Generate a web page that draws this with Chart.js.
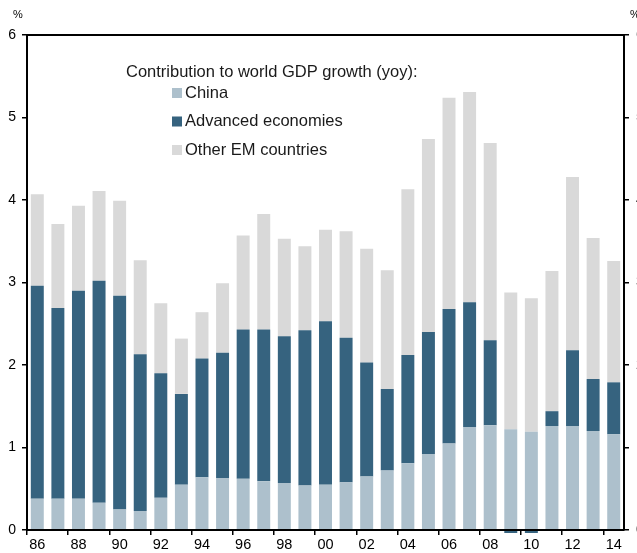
<!DOCTYPE html>
<html>
<head>
<meta charset="utf-8">
<script src="https://cdn.jsdelivr.net/npm/chart.js@4"></script>
<style>
  html, body { margin: 0; padding: 0; background: #fff; overflow: hidden; }
  #wrap { width: 637px; height: 553px; overflow: hidden; position: relative; }
  canvas { display: block; }
</style>
</head>
<body>
<div id="wrap"><canvas id="chart" width="660" height="553"></canvas></div>
<script>
// categories (years, 1986-2014)
const years = ['86','87','88','89','90','91','92','93','94','95','96','97','98','99','00',
               '01','02','03','04','05','06','07','08','09','10','11','12','13','14'];

// contributions to world GDP growth, % points
const china = [0.38,0.38,0.38,0.33,0.25,0.23,0.39,0.55,0.64,0.63,0.62,0.59,0.57,0.54,0.55,
               0.58,0.65,0.72,0.81,0.92,1.05,1.25,1.27,1.22,1.19,1.26,1.26,1.20,1.16];
const advanced = [2.58,2.31,2.52,2.69,2.59,1.90,1.51,1.10,1.44,1.52,1.81,1.84,1.78,1.88,1.98,
                  1.75,1.38,0.99,1.31,1.48,1.63,1.51,1.03,-1.9,-0.1,0.18,0.92,0.63,0.63];
const otherEM = [1.11,1.02,1.03,1.09,1.15,1.14,0.85,0.67,0.56,0.84,1.14,1.40,1.18,1.02,1.11,
                 1.29,1.38,1.44,2.01,2.34,2.56,2.55,2.39,1.66,1.62,1.70,2.10,1.71,1.47];

const yTicks = [0,1,2,3,4,5,6];
const legendTitle = 'Contribution to world GDP growth (yoy):';

const FONT = '"Liberation Sans", Arial, sans-serif';

// top frame line, "%" labels and the legend block
const extras = {
  id: 'extras',
  afterDraw(chart) {
    const ctx = chart.ctx;
    const a = chart.chartArea;
    ctx.save();
    ctx.strokeStyle = '#000';
    ctx.lineWidth = 2;
    ctx.beginPath();
    ctx.moveTo(a.left - 1, a.top);
    ctx.lineTo(a.right + 1, a.top);
    ctx.stroke();

    ctx.fillStyle = '#000';
    ctx.font = '11px ' + FONT;
    ctx.textBaseline = 'middle';
    ctx.textAlign = 'left';
    ctx.fillText('%', 13, 15);
    ctx.fillText('%', 630, 15);

    ctx.font = '16.5px ' + FONT;
    ctx.fillStyle = '#1a1a1a';
    ctx.fillText(legendTitle, 126, 72);
    chart.data.datasets.forEach((ds, i) => {
      const y = 93 + i * 28.5;
      ctx.fillStyle = ds.backgroundColor;
      ctx.fillRect(172, y - 5, 10, 10);
      ctx.fillStyle = '#1a1a1a';
      ctx.fillText(ds.label, 185, y);
    });
    ctx.restore();
  }
};

new Chart(document.getElementById('chart'), {
  type: 'bar',
  data: {
    labels: years,
    datasets: [
      { label: 'China', data: china, backgroundColor: '#adc0cc' },
      { label: 'Advanced economies', data: advanced, backgroundColor: '#36637f',
        clip: { left: 0, top: 0, right: 0, bottom: 3 } },
      { label: 'Other EM countries', data: otherEM, backgroundColor: '#d9d9d9' }
    ]
  },
  options: {
    responsive: false,
    animation: false,
    devicePixelRatio: 1,
    layout: { padding: { top: 35, left: 0, right: 0, bottom: 0 } },
    datasets: { bar: { categoryPercentage: 1, barPercentage: 0.63, borderWidth: 0 } },
    plugins: { legend: { display: false }, tooltip: { enabled: false } },
    scales: {
      x: {
        stacked: true,
        grid: {
          offset: true,
          drawOnChartArea: false,
          drawTicks: true,
          tickLength: 5,
          lineWidth: 1.5,
          color: c => (c.index % 2 === 0 ? '#000' : 'rgba(0,0,0,0)')
        },
        border: { display: true, color: '#000', width: 2, z: 1 },
        ticks: {
          autoSkip: false,
          maxRotation: 0,
          padding: 1,
          color: '#000',
          font: { family: FONT, size: 14.5 },
          callback: (v, i) => (i % 2 === 0 ? years[i] : '')
        },
        afterFit: s => { s.height = 23; }
      },
      y: {
        stacked: true,
        position: 'left',
        min: 0,
        max: 6,
        afterBuildTicks: s => { s.ticks = yTicks.map(v => ({ value: v })); },
        grid: { drawOnChartArea: false, drawTicks: true, tickLength: 5, color: '#000', lineWidth: 1.5 },
        border: { display: true, color: '#000', width: 2, z: 1 },
        ticks: { color: '#000', padding: 6, font: { family: FONT, size: 14 } },
        afterFit: s => { s.width = 27; }
      },
      y2: {
        position: 'right',
        min: 0,
        max: 6,
        afterBuildTicks: s => { s.ticks = yTicks.map(v => ({ value: v })); },
        grid: { drawOnChartArea: false, drawTicks: true, tickLength: 5, color: '#000', lineWidth: 1.5 },
        border: { display: true, color: '#000', width: 2, z: 1 },
        ticks: { color: '#000', padding: 7, font: { family: FONT, size: 14 } },
        afterFit: s => { s.width = 36; }
      }
    }
  },
  plugins: [extras]
});
</script>
</body>
</html>
